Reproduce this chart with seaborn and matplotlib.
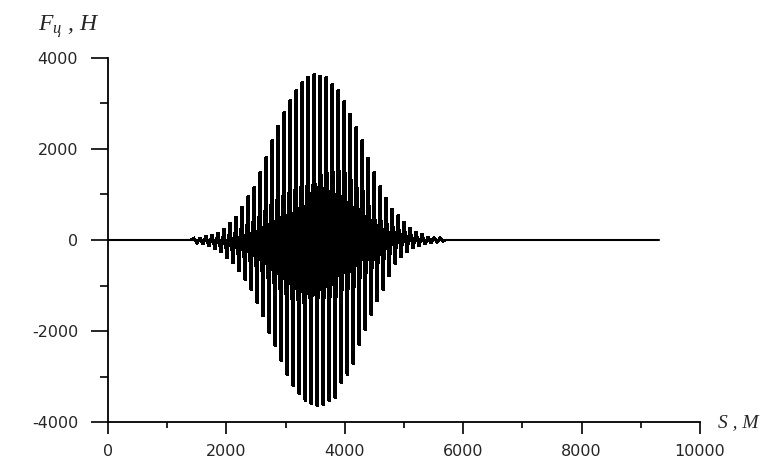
import numpy as np
import pandas as pd
import matplotlib
matplotlib.use("Agg")
import matplotlib.pyplot as plt
import seaborn as sns

# ---- data ----
# outer (tall) peaks, inner peaks and troughs of each oscillation period
peak_outer = [37, 50, 88, 125, 169, 257, 380, 512, 732, 967, 1172, 1500, 1831,
              2198, 2527, 2820, 3092, 3311, 3479, 3604, 3663, 3626, 3589, 3443,
              3297, 3060, 2790, 2490, 2198, 1817, 1501, 1187, 938, 696, 549, 403,
              271, 183, 132, 73, 59, 44]
peak_inner = [20, 30, 50, 80, 110, 150, 220, 300, 420, 560, 700, 900, 1100,
              1300, 1500, 1650, 1800, 2000, 2100, 2500, 2750, 3000, 3040, 3040,
              2970, 2860, 2600, 2235, 2050, 1500, 1000, 900, 730, 560, 420, 320,
              220, 150, 100, 60, 45, 30]
trough = [-60, -90, -140, -200, -280, -400, -513, -696, -879, -1099, -1392,
          -1685, -2051, -2344, -2674, -2967, -3223, -3400, -3540, -3620, -3670,
          -3640, -3553, -3480, -3150, -2967, -2747, -2308, -1978, -1648, -1355,
          -1099, -806, -530, -380, -270, -190, -140, -95, -65, -45, -25]
first_peak_s = 1453      # m, position of first peak
period_s = 101.35        # m, spacing of peaks
signal_start = 1400
signal_end = 5700
line_end = 9300

x_ticks = [0, 2000, 4000, 6000, 8000, 10000]
y_ticks = [-4000, -2000, 0, 2000, 4000]

# ---- build the sample sequence ----
s_osc = [signal_start]
f_osc = [0]
for k in range(len(peak_outer)):
    s0 = first_peak_s + period_s * k
    s_osc += [s0, s0 + 6, s0 + 50.7]
    f_osc += [peak_outer[k], peak_inner[k], trough[k]]
s_osc += [signal_end]
f_osc += [0]
df_osc = pd.DataFrame({"s": s_osc, "F": f_osc})
df_flat = pd.DataFrame({"s": [0, line_end], "F": [0, 0]})

sns.set_theme(style="white")
plt.rcParams["font.family"] = ["DejaVu Sans"]
plt.rcParams["mathtext.fontset"] = "custom"
plt.rcParams["mathtext.rm"] = "Liberation Serif:italic"
plt.rcParams["mathtext.it"] = "Liberation Serif:italic"

fig = plt.figure(figsize=(7.77, 4.61), dpi=100)
ax = fig.add_axes([108 / 777, 1 - 422 / 461, 592 / 777, 364 / 461])

sns.lineplot(data=df_flat, x="s", y="F", sort=False, estimator=None,
             color="black", linewidth=1.5, ax=ax)
sns.lineplot(data=df_osc, x="s", y="F", sort=False, estimator=None,
             color="black", linewidth=1.45, ax=ax)
ax.lines[1].set_solid_joinstyle("miter")
ax.lines[1].set_antialiased(False)

ax.set_xlim(0, 10000)
ax.set_ylim(-4000, 4000)
ax.set_xticks(x_ticks)
ax.set_yticks(y_ticks)
ax.set_xticks([1000, 3000, 5000, 7000, 9000], minor=True)
ax.set_yticks([-3000, -1000, 1000, 3000], minor=True)
ax.set_xticklabels([str(v) for v in x_ticks])
ax.set_yticklabels([str(v) for v in y_ticks])
ax.set_xlabel("")
ax.set_ylabel("")
for side in ["top", "right"]:
    ax.spines[side].set_visible(False)
for side in ["left", "bottom"]:
    ax.spines[side].set_color("black")
    ax.spines[side].set_linewidth(1.3)
ax.tick_params(axis="x", which="major", direction="out", length=8.5, width=1.2,
               color="black", labelsize=11.5, pad=7, bottom=True)
ax.tick_params(axis="x", which="minor", direction="out", length=4, width=1.2,
               color="black", bottom=True)
ax.tick_params(axis="y", which="major", direction="out", length=12.5, width=1.2,
               color="black", labelsize=11.5, pad=9, left=True)
ax.tick_params(axis="y", which="minor", direction="out", length=6, width=1.2,
               color="black", left=True)
ax.grid(False)

fig.text(38 / 777, 1 - 31 / 461, "$F_{ц}$ , Н", fontsize=17,
         family="Liberation Serif", style="italic", va="baseline", ha="left")
fig.text(718 / 777, 1 - 427 / 461, "S , М", fontsize=14,
         family="Liberation Serif", style="italic", va="baseline", ha="left")

fig.savefig("out.png", dpi=100, facecolor="white")
